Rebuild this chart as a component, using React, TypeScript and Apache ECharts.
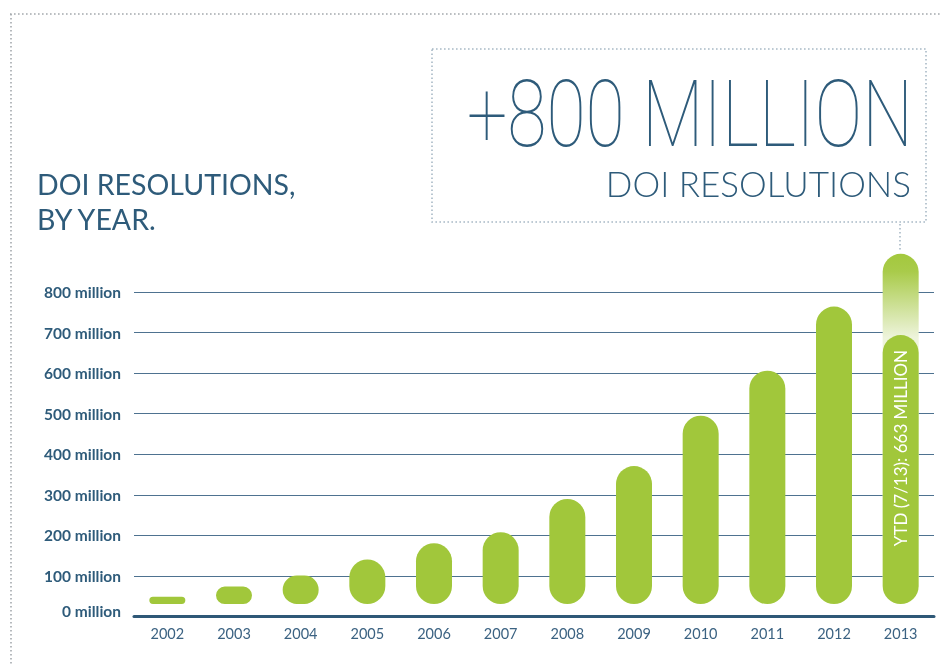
import React, { useEffect, useRef } from "react";
import * as echarts from "echarts";

const years = ["2002", "2003", "2004", "2005", "2006", "2007", "2008", "2009", "2010", "2011", "2012", "2013"];
// millions of DOI resolutions (2013 = year to date, July 2013)
const resolutions = [18, 43, 70, 110, 150, 177, 259, 340, 464, 575, 733, 663];
// 2013 full-year projection (faded bar)
const projected2013 = 863;
// bars float slightly above the axis line (in millions)
const floatOffset = 31;
const yTickValues = [0, 100, 200, 300, 400, 500, 600, 700, 800];

const GREEN = "#a1c73b";
const NAVY = "#2e5b7a";
const FONT = "Lato, 'Open Sans', sans-serif";

export default function App() {
  const ref = useRef<HTMLDivElement>(null);
  useEffect(() => {
    if (!ref.current) return;
    const chart = echarts.init(ref.current, null, { renderer: "svg" });
    const last = years.length - 1;
    const offsets = years.map(() => floatOffset);
    const projData = years.map((_, i) => (i === last ? projected2013 : "-"));
    const mainData = resolutions.map((v, i) =>
      i === last
        ? {
            value: v,
            label: {
              show: true,
              position: "insideTop",
              rotate: 90,
              align: "right",
              verticalAlign: "middle",
              distance: 15,
              color: "#ffffff",
              fontFamily: FONT,
              fontWeight: 400,
              fontSize: 17,
              formatter: "YTD (7/13): 663 MILLION",
            },
          }
        : v
    );
    const common = { type: "bar", barWidth: 36, barGap: "-100%", clip: false, silent: true };
    chart.setOption({
      animation: false,
      grid: { left: 134, right: 6, top: 292, height: 324.6, containLabel: false },
      xAxis: {
        type: "category",
        data: years,
        axisTick: { show: false },
        axisLine: { show: true, lineStyle: { color: "#2f5877", width: 3 } },
        axisLabel: { color: "#3b6282", fontFamily: FONT, fontSize: 14.5, margin: 9 },
        splitLine: { show: false },
      },
      yAxis: {
        type: "value",
        min: 0,
        max: 800,
        interval: 100,
        axisLine: { show: false },
        axisTick: { show: false },
        splitLine: { show: true, lineStyle: { color: "#4e7290", width: 1 } },
        axisLabel: {
          margin: 13,
          color: NAVY,
          fontFamily: FONT,
          fontWeight: "bold",
          fontSize: 15.5,
          customValues: yTickValues,
          formatter: (v: number) => (v === 0 ? `{z|${v} million}` : `${v} million`),
          rich: {
            z: { padding: [0, 0, 12, 0], color: NAVY, fontFamily: FONT, fontWeight: "bold", fontSize: 15.5 },
          },
        },
      },
      series: [
        { ...common, name: "base1", stack: "proj", data: offsets, itemStyle: { color: "rgba(0,0,0,0)" } },
        {
          ...common,
          name: "projected",
          stack: "proj",
          data: projData,
          itemStyle: {
            borderRadius: 18,
            color: new echarts.graphic.LinearGradient(0, 0, 0, 1, [
              { offset: 0, color: "#a3c83d" },
              { offset: 0.05, color: "#a9cb4a" },
              { offset: 0.24, color: "#eef4dc" },
              { offset: 1, color: "#ffffff" },
            ]),
          },
        },
        { ...common, name: "base2", stack: "ytd", data: offsets, itemStyle: { color: "rgba(0,0,0,0)" } },
        { ...common, name: "resolutions", stack: "ytd", data: mainData, itemStyle: { color: GREEN, borderRadius: 18 } },
      ],
      graphic: [
        // outer dotted frame (top & left)
        { type: "line", shape: { x1: 10, y1: 14, x2: 940, y2: 14 }, style: { stroke: "#a4a9ad", lineWidth: 1.6, lineDash: [1.6, 2.4] }, silent: true },
        { type: "line", shape: { x1: 11, y1: 14, x2: 11, y2: 664 }, style: { stroke: "#a4a9ad", lineWidth: 1.6, lineDash: [1.6, 2.4] }, silent: true },
        // callout box
        { type: "rect", shape: { x: 432, y: 49, width: 494, height: 173 }, style: { fill: "none", stroke: "#a8b9c6", lineWidth: 1.6, lineDash: [1.6, 2.4] }, silent: true },
        { type: "line", shape: { x1: 900, y1: 224, x2: 900, y2: 252 }, style: { stroke: "#a8b9c6", lineWidth: 1.6, lineDash: [1.6, 2.4] }, silent: true },
        {
          type: "text",
          x: 37,
          y: 166,
          style: { text: "DOI RESOLUTIONS,\nBY YEAR.", fill: NAVY, fontFamily: FONT, fontSize: 28.5, fontWeight: 400, lineHeight: 35 },
        },
        {
          type: "text",
          x: 467,
          y: 68,
          scaleX: 0.77,
          style: { text: "+800 MILLION", fill: NAVY, fontFamily: "Roboto, Lato, sans-serif", fontSize: 93, fontWeight: 100, align: "left", verticalAlign: "top" },
        },
        {
          type: "text",
          x: 911,
          y: 165,
          style: { text: "DOI RESOLUTIONS", fill: NAVY, fontFamily: FONT, fontSize: 35, fontWeight: 300, align: "right", verticalAlign: "top" },
        },
      ],
    });
    return () => chart.dispose();
  }, []);
  return <div ref={ref} style={{ position: "fixed", left: 0, top: 0, width: 940, height: 664 }} />;
}
